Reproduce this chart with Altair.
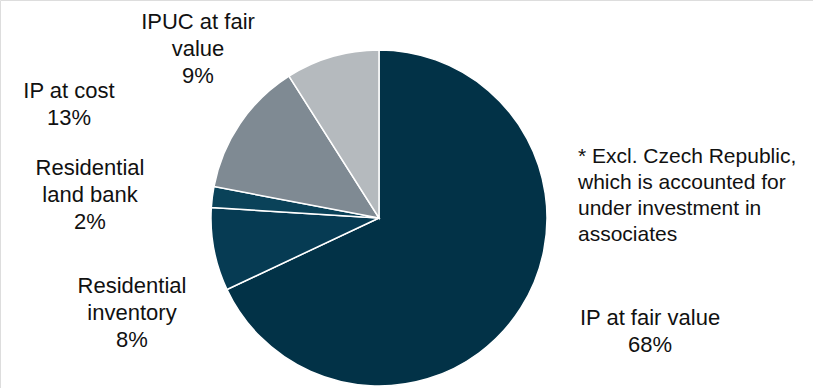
import altair as alt
import pandas as pd

categories = ["IP at fair value", "Residential inventory", "Residential land bank", "IP at cost", "IPUC at fair value"]
values = [68, 8, 2, 13, 9]
label_lines = [
    ["IP at fair value"],
    ["Residential", "inventory"],
    ["Residential", "land bank"],
    ["IP at cost"],
    ["IPUC at fair", "value"],
]
colors = ["#023247", "#063b53", "#0a4259", "#7f8a93", "#b5babe"]
footnote = ["* Excl. Czech Republic,", "which is accounted for", "under investment in", "associates"]

df = pd.DataFrame({"category": categories, "value": values, "idx": list(range(len(values)))})

W, H = 813, 388
CX, CY, R = 379, 218, 168

pie = alt.Chart(df).mark_arc(radius=R, stroke="white", strokeWidth=1.5).encode(
    theta=alt.Theta("value:Q", stack=True),
    order=alt.Order("idx:Q"),
    color=alt.Color("category:N", scale=alt.Scale(domain=categories, range=colors), legend=None, sort=None),
    x=alt.value(CX),
    y=alt.value(CY),
)

# label anchor positions (center x, first-line baseline y)
label_pos = [(650, 325), (132, 293), (90, 175), (69, 98), (198, 29)]

layers = [pie]
for lines, v, (px, py) in zip(label_lines, values, label_pos):
    txt = lines + [f"{v}%"]
    layers.append(
        alt.Chart(df).mark_text(
            text=txt, align="center", baseline="alphabetic", font="Liberation Sans",
            fontSize=22, lineHeight=27, color="#111111"
        ).encode(x=alt.value(px), y=alt.value(py)).transform_filter(alt.datum.idx == 0)
    )

layers.append(
    alt.Chart(df).mark_text(
        text=footnote, align="left", baseline="alphabetic", font="Liberation Sans",
        fontSize=21, lineHeight=26, color="#111111"
    ).encode(x=alt.value(578), y=alt.value(163)).transform_filter(alt.datum.idx == 0)
)

chart = alt.layer(*layers).properties(
    width=W, height=H, padding=0, autosize=alt.AutoSizeParams(type="none")
).configure_view(stroke=None).configure(background="white")

chart.save("out.html", embed_options={"renderer": "svg", "actions": False})
